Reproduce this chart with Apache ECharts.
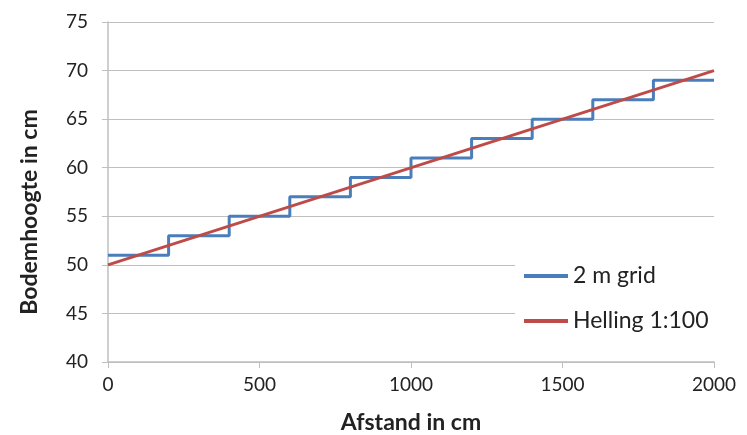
<!DOCTYPE html>
<html>
<head>
<meta charset="utf-8">
<script src="https://cdn.jsdelivr.net/npm/echarts@6/dist/echarts.min.js"></script>
<style>
  html, body { margin: 0; padding: 0; background: #fff; }
  #chart { width: 747px; height: 435px; }
</style>
</head>
<body>
<div id="chart"></div>
<script>
// 2 m grid: stap per 200 cm
const gridX = [0, 200, 400, 600, 800, 1000, 1200, 1400, 1600, 1800, 2000];
const gridY = [51, 53, 55, 57, 59, 61, 63, 65, 67, 69, 69];
// helling 1:100
const slopeX = [0, 2000];
const slopeY = [50, 70];

const font = "Lato, 'Open Sans', sans-serif";

const chart = echarts.init(document.getElementById("chart"));
chart.setOption({
  animation: false,
  grid: { left: 108, right: 33, top: 22, bottom: 73, outerBoundsMode: "none" },
  legend: {
    orient: "vertical",
    left: 515,
    top: 255,
    width: 210,
    padding: [8, 8, 8, 9],
    backgroundColor: "#fff",
    itemWidth: 44,
    itemHeight: 4,
    itemGap: 19,
    icon: "rect",
    textStyle: { fontFamily: font, fontSize: 23, lineHeight: 26, color: "#222" },
    data: ["2 m grid", "Helling 1:100"]
  },
  xAxis: {
    type: "value",
    min: 0,
    max: 2000,
    interval: 500,
    name: "Afstand in cm",
    nameLocation: "middle",
    nameGap: 49,
    nameTextStyle: { fontFamily: font, fontSize: 23, fontWeight: "bold", color: "#222" },
    axisLine: { lineStyle: { color: "#bfbfbf", width: 1.5 } },
    axisTick: { show: true, length: 6, lineStyle: { color: "#bfbfbf" } },
    axisLabel: { fontFamily: font, fontSize: 19, color: "#222", margin: 13, formatter: v => String(v) },
    splitLine: { show: false }
  },
  yAxis: {
    type: "value",
    min: 40,
    max: 75,
    interval: 5,
    name: "Bodemhoogte in cm",
    nameLocation: "middle",
    nameGap: 67,
    nameTextStyle: { fontFamily: font, fontSize: 23, fontWeight: "bold", color: "#222", padding: [0, 40, 0, 0] },
    axisLine: { show: true, lineStyle: { color: "#bfbfbf", width: 1.5 } },
    axisTick: { show: true, length: 6, lineStyle: { color: "#bfbfbf" } },
    axisLabel: { fontFamily: font, fontSize: 19, color: "#222", margin: 20 },
    splitLine: { lineStyle: { color: "#bfbfbf", width: 1.2 } }
  },
  series: [
    {
      name: "2 m grid",
      type: "line",
      step: "end",
      showSymbol: false,
      color: "#4a7ebb",
      lineStyle: { width: 3 },
      data: gridX.map((x, i) => [x, gridY[i]])
    },
    {
      name: "Helling 1:100",
      type: "line",
      showSymbol: false,
      color: "#be4b48",
      lineStyle: { width: 3 },
      data: slopeX.map((x, i) => [x, slopeY[i]])
    }
  ]
});
</script>
</body>
</html>
